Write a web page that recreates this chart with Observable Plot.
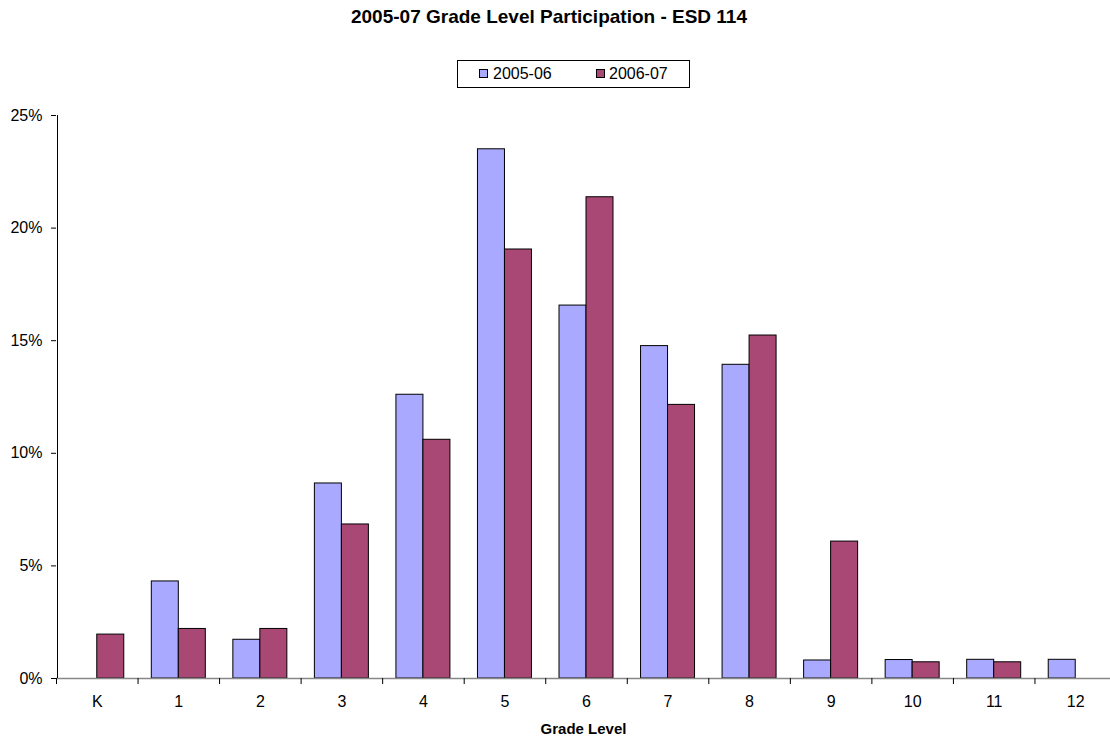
<!DOCTYPE html>
<html>
<head>
<meta charset="utf-8">
<script src="https://cdn.jsdelivr.net/npm/d3@7"></script>
<script src="https://cdn.jsdelivr.net/npm/@observablehq/plot@0.6"></script>
<style>
  html, body { margin: 0; padding: 0; background: #fff; overflow: hidden; }
  #wrap { position: relative; width: 1110px; height: 741px; overflow: hidden; font-family: "Liberation Sans", Arial, sans-serif; color: #000; }
  #title { position: absolute; top: 6px; left: 0; width: 1098px; text-align: center; font-weight: bold; font-size: 19px; line-height: 22px; }
  #legend { position: absolute; left: 457px; top: 60px; width: 231px; height: 26px; border: 1px solid #000; font-size: 16px; }
  .sw { position: absolute; top: 8px; width: 7px; height: 7px; border: 1px solid #000; }
  .lt { position: absolute; top: 3px; line-height: 19px; }
  #chart { position: absolute; left: 0; top: 100px; width: 1116px; }
  #chart svg { max-width: none !important; }
  #xlabel { position: absolute; top: 720px; left: 0; width: 1167px; text-align: center; font-weight: bold; font-size: 15px; line-height: 18px; }
</style>
</head>
<body>
<div id="wrap">
  <div id="title"></div>
  <div id="legend"></div>
  <div id="chart"></div>
  <div id="xlabel"></div>
</div>
<script>
const titleText = "2005-07 Grade Level Participation - ESD 114";
const xLabel = "Grade Level";
const grades = ["K", "1", "2", "3", "4", "5", "6", "7", "8", "9", "10", "11", "12"];
const series = ["2005-06", "2006-07"];
const v0506 = [0, 4.31, 1.72, 8.66, 12.6, 23.5, 16.56, 14.76, 13.93, 0.8, 0.82, 0.83, 0.83];
const v0607 = [1.95, 2.2, 2.2, 6.84, 10.6, 19.05, 21.37, 12.15, 15.23, 6.08, 0.72, 0.72, 0];
const yTicks = [0, 5, 10, 15, 20, 25];
const colors = ["#a9a9ff", "#a94875"];

document.getElementById("title").textContent = titleText;
document.getElementById("xlabel").textContent = xLabel;

// legend
const legend = document.getElementById("legend");
const legPos = [[21, 35], [138, 151]];
series.forEach((s, i) => {
  const sw = document.createElement("div");
  sw.className = "sw";
  sw.style.left = legPos[i][0] + "px";
  sw.style.background = colors[i];
  legend.appendChild(sw);
  const t = document.createElement("div");
  t.className = "lt";
  t.style.left = legPos[i][1] + "px";
  t.textContent = s;
  legend.appendChild(t);
});

const rows0 = grades.map((g, i) => ({grade: g, series: series[0], value: v0506[i]})).filter(d => d.value > 0);
const rows1 = grades.map((g, i) => ({grade: g, series: series[1], value: v0607[i]})).filter(d => d.value > 0);

const W = 1116, H = 610, ML = 56, MR = 0;
const bw = (W - ML - MR) / grades.length;
const barW = 27;
const off = (bw - 2 * barW) / 2;

const chart = Plot.plot({
  width: W,
  height: H,
  marginLeft: ML,
  marginRight: MR,
  marginTop: 15,
  marginBottom: 32,
  style: {fontFamily: "'Liberation Sans', Arial, sans-serif", fontSize: "16px", color: "#000", background: "transparent", overflow: "visible", maxWidth: "none"},
  x: {type: "band", domain: grades, padding: 0, round: false, label: null},
  y: {domain: [0, 25], label: null},
  color: {domain: series, range: colors},
  marks: [
    Plot.barY(rows0, {x: "grade", y: "value", fill: "series", stroke: "#000", strokeWidth: 1, insetLeft: off, insetRight: bw - off - barW}),
    Plot.barY(rows1, {x: "grade", y: "value", fill: "series", stroke: "#000", strokeWidth: 1, insetLeft: off + barW, insetRight: off}),
    Plot.ruleY([0], {stroke: "#888", strokeWidth: 1.5}),
    Plot.ruleX(grades, {x: d => d, y1: -0.27, y2: 0, dx: -bw / 2, stroke: "#000"}),
    Plot.ruleX([grades[0]], {x: d => d, y1: 0, y2: 25, dx: -bw / 2 + 1, stroke: "#000"}),
    Plot.axisY({ticks: yTicks, tickFormat: d => d + "%", tickSize: 5, tickPadding: 9, fontSize: 16, label: null}),
    Plot.axisX({tickSize: 0, tickPadding: 17, fontSize: 16, label: null})
  ]
});
document.getElementById("chart").appendChild(chart);
</script>
</body>
</html>
